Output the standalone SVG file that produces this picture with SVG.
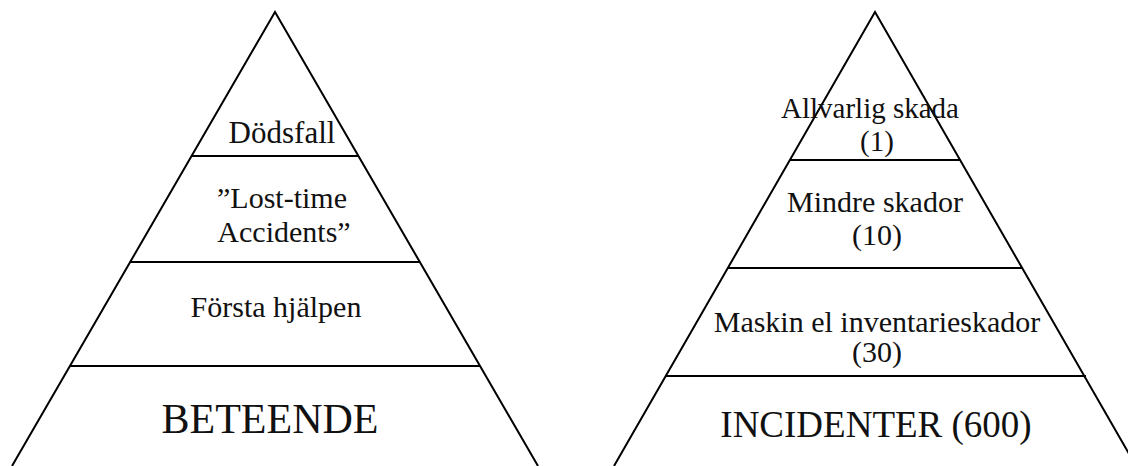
<svg xmlns="http://www.w3.org/2000/svg" width="1128" height="466" viewBox="0 0 1128 466">
<style>
.ln{stroke:#000;stroke-width:2;fill:none}
text{font-family:"Liberation Serif","Times New Roman",serif;fill:#111;text-anchor:middle}
.s{font-size:30px}
.t{font-size:29px}
.b{font-size:42px}
.m{font-size:37px}
</style>
<rect width="1128" height="466" fill="#fff"/>
<g id="connectors">
<polyline class="ln" points="12,466 275,12 538,466"/>
<line class="ln" x1="191" y1="156" x2="359" y2="156"/>
<line class="ln" x1="130" y1="262" x2="420" y2="262"/>
<line class="ln" x1="70" y1="366" x2="480" y2="366"/>
<polyline class="ln" points="614,466 875,12 1136,466"/>
<line class="ln" x1="790" y1="160" x2="960" y2="160"/>
<line class="ln" x1="728" y1="268" x2="1022" y2="268"/>
<line class="ln" x1="665" y1="376" x2="1086" y2="376"/>
</g>
<g id="left-1"><text class="s" x="282" y="143" style="font-size:31px">Dödsfall</text></g>
<g id="left-2"><text class="s" x="282" y="208">”Lost-time</text><text class="s" x="284" y="242">Accidents”</text></g>
<g id="left-3"><text class="s" x="276" y="317">Första hjälpen</text></g>
<g id="left-4"><text class="b" x="270" y="433">BETEENDE</text></g>
<g id="right-1"><text class="t" x="870" y="118">Allvarlig skada</text><text class="t" x="877" y="151">(1)</text></g>
<g id="right-2"><text class="s" x="875" y="212">Mindre skador</text><text class="s" x="877" y="245">(10)</text></g>
<g id="right-3"><text class="s" x="877" y="332">Maskin el inventarieskador</text><text class="s" x="877" y="362">(30)</text></g>
<g id="right-4"><text class="m" x="876" y="437">INCIDENTER (600)</text></g>
</svg>
